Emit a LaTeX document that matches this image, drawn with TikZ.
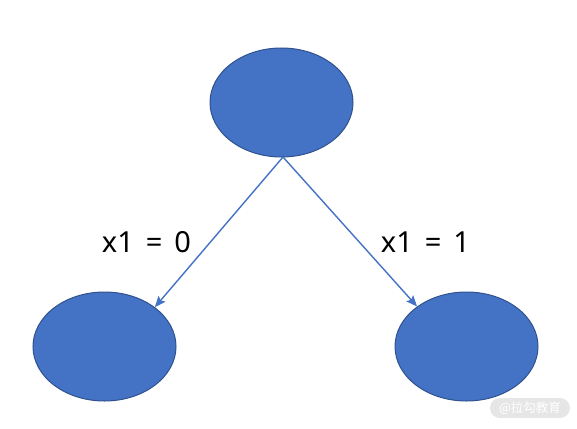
\documentclass[tikz,border=0pt]{standalone}
\usepackage{fontspec}
\setmainfont{Noto Sans}
\newfontfamily\cjkfont{Noto Sans CJK SC}
\usetikzlibrary{shapes.geometric,arrows.meta}
\definecolor{nodefill}{HTML}{4472C4}
\definecolor{nodeedge}{HTML}{2F528F}
\definecolor{wmbg}{HTML}{E6E6E6}
\tikzset{
  treenode/.style={ellipse, draw=nodeedge, fill=nodefill, line width=1pt, minimum width=143pt, minimum height=109pt, inner sep=0pt},
  edge/.style={draw=nodefill, line width=1.4pt, -{Stealth[length=11pt,width=9pt,inset=2pt]}},
  lbl/.style={font=\fontsize{29}{32}\selectfont, text=black}
}
\begin{document}
\begin{tikzpicture}[x=1pt,y=-1pt]
\useasboundingbox (0,0) rectangle (577,428);
\node[treenode] (root) at (281.5,102.5) {};
\node[treenode] (left) at (104.5,346.5) {};
\node[treenode] (right) at (466.5,346.5) {};
\coordinate (top) at (283,157);
\draw[edge] (top) -- (left.38);
\draw[edge] (top) -- (right.141);
\node[lbl] (l0) at (146.5,242) {x1\hspace{12pt}=\hspace{12pt}0};
\node[lbl] (l1) at (425.5,242) {x1\hspace{12pt}=\hspace{12pt}1};
\node[fill=wmbg, rounded corners=10pt, minimum width=80pt, minimum height=20pt, inner sep=0pt, text=white, font=\cjkfont\fontsize{12.5}{13}\selectfont] (wm) at (530,408) {@拉勾教育};
\end{tikzpicture}
\end{document}
